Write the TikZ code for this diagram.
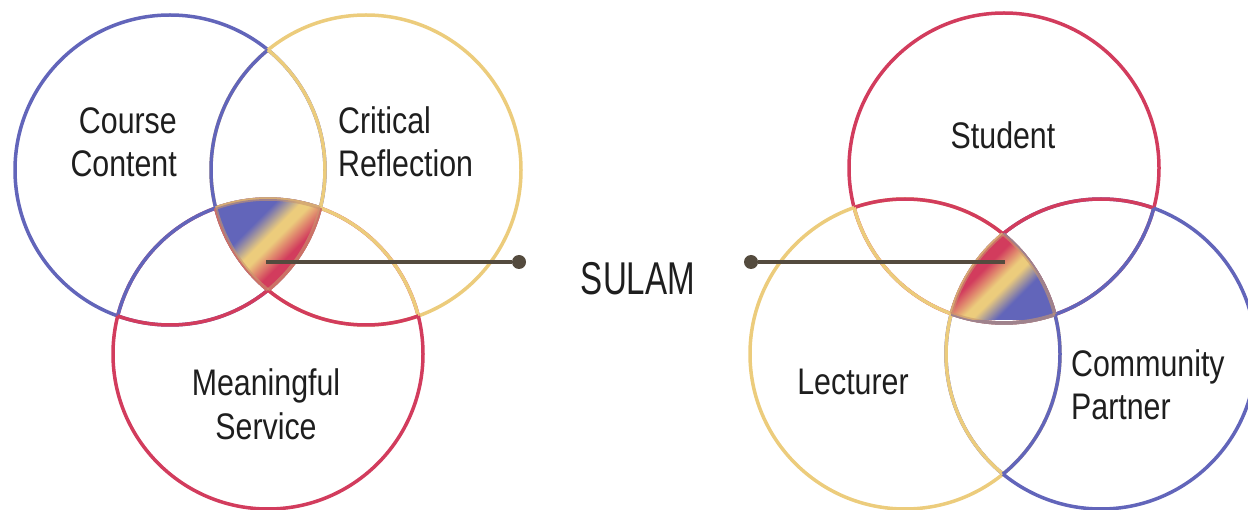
\documentclass[tikz,border=0pt]{standalone}
\usepackage{fontspec}
\newfontfamily\venfont{Liberation Sans}[FakeStretch=0.82]
\newfontfamily\hubfont{Liberation Sans}[FakeStretch=0.72]
\definecolor{venblue}{RGB}{98,101,186}
\definecolor{venyellow}{RGB}{236,204,124}
\definecolor{venred}{RGB}{210,60,93}
\definecolor{ventext}{RGB}{30,30,30}
\definecolor{venlink}{RGB}{84,75,62}
\definecolor{venedge}{RGB}{200,150,110}
\pgfdeclarehorizontalshading{venbyr}{100bp}{color(0bp)=(venblue); color(37bp)=(venblue); color(46bp)=(venyellow); color(50bp)=(venyellow); color(60bp)=(venred); color(100bp)=(venred)}
\pgfdeclarehorizontalshading{venryb}{100bp}{color(0bp)=(venred); color(40bp)=(venred); color(50bp)=(venyellow); color(54bp)=(venyellow); color(63bp)=(venblue); color(100bp)=(venblue)}
\tikzset{
  ring/.style={line width=3.5pt},
  edge/.style={line width=3.5pt, draw=venedge, draw opacity=0.6},
  lbl/.style={font=\venfont\fontsize{37}{43.4}\selectfont, text=ventext, inner sep=0pt},
  hub/.style={font=\hubfont\fontsize{46}{50}\selectfont, text=ventext, inner sep=0pt},
  link/.style={venlink, line width=4pt},
  hubdot/.style={circle, fill=venlink, inner sep=0pt, minimum size=14pt},
}
\begin{document}
\begin{tikzpicture}[x=1pt,y=-1pt]
\useasboundingbox (0,0) rectangle (1248,510);
\coordinate (cc) at (170,170);
\coordinate (cr) at (366,170);
\coordinate (ms) at (268,354);
\coordinate (st) at (1004,168);
\coordinate (lc) at (905,354);
\coordinate (cp) at (1101,354);

% the rings
\draw[ring,venblue] (cc) circle[radius=155pt];
\draw[ring,venyellow] (cr) circle[radius=155pt];
\draw[ring,venred] (ms) circle[radius=155pt];
\draw[ring,venred] (st) circle[radius=155pt];
\draw[ring,venyellow] (lc) circle[radius=155pt];
\draw[ring,venblue] (cp) circle[radius=155pt];
\foreach \a/\b/\c/\col in {cc/cr/ms/venblue, cr/cc/ms/venyellow, ms/cc/cr/venred,
    st/lc/cp/venred, lc/st/cp/venyellow, cp/st/lc/venblue}{
  \begin{scope}
    \clip (\a) circle[radius=155pt];
    \draw[ring,\col] (\b) circle[radius=155pt] (\c) circle[radius=155pt];
  \end{scope}
}

% the middle pieces
\begin{scope}
  \clip (cc) circle[radius=155pt];
  \clip (cr) circle[radius=155pt];
  \clip (ms) circle[radius=155pt];
  \shade[shading=venbyr, shading angle=-45] (214,198) rectangle (322,296);
\end{scope}
\begin{scope}
  \clip (st) circle[radius=155pt];
  \clip (lc) circle[radius=155pt];
  \clip (cp) circle[radius=155pt];
  \shade[shading=venryb, shading angle=-45] (951,232) rectangle (1057,320);
\end{scope}
\foreach \a/\b/\c in {cc/cr/ms, cc/ms/cr, cr/ms/cc, st/lc/cp, st/cp/lc, lc/cp/st}{
  \begin{scope}
    \clip (\a) circle[radius=155pt];
    \clip (\b) circle[radius=155pt];
    \draw[edge] (\c) circle[radius=155pt];
  \end{scope}
}

\node[lbl, anchor=base east, align=right] (course) at (177,177) {Course\\Content};
\node[lbl, anchor=base west, align=left] (critical) at (338,177) {Critical\\Reflection};
\node[lbl, anchor=base, align=center] (service) at (266,439) {Meaningful\\Service};
\node[lbl, anchor=base] (student) at (1003,149) {Student};
\node[lbl, anchor=base] (lecturer) at (853,395) {Lecturer};
\node[lbl, anchor=base west, align=left] (partner) at (1071,420) {Community\\Partner};
\node[hub, anchor=base] (sulam) at (638,295) {SULAM};

\coordinate (hubL) at (266,262);
\coordinate (hubR) at (1005,262);
\node[hubdot] (dotL) at (519,262) {};
\node[hubdot] (dotR) at (751,262) {};
\draw[link] (hubL) -- (dotL);
\draw[link] (dotR) -- (hubR);
\end{tikzpicture}
\end{document}
